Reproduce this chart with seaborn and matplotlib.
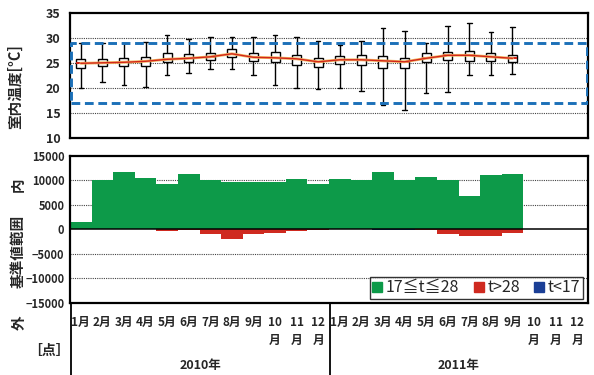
import numpy as np
import pandas as pd
import matplotlib
matplotlib.use("Agg")
import matplotlib.pyplot as plt
import matplotlib.patheffects as pe
from matplotlib.lines import Line2D
import seaborn as sns

# ---- data -------------------------------------------------------------
month_labels = [f"{m}月" if m < 10 else f"{m}\n月" for m in range(1, 13)] * 2
year_labels = ["2010年", "2011年"]

# monthly indoor temperature summary (°C), Jan 2010 .. Sep 2011
t_min = [20.1, 21.3, 20.7, 20.3, 22.6, 23.1, 23.8, 23.8, 22.7, 20.6, 20.0,
         19.8, 20.1, 19.5, 16.7, 15.6, 19.1, 19.2, 22.7, 22.7, 22.9]
t_q1 = [24.0, 24.5, 24.5, 24.5, 25.2, 25.3, 25.7, 26.2, 25.5, 25.3, 24.7,
        24.2, 24.8, 24.7, 24.0, 24.1, 25.2, 25.7, 25.5, 25.5, 25.3]
t_med = [25.0, 25.1, 25.2, 25.4, 25.8, 26.0, 26.3, 26.9, 26.2, 26.1, 25.9,
         25.3, 25.7, 25.7, 25.5, 25.3, 26.0, 26.6, 26.6, 26.3, 26.0]
t_q3 = [25.9, 25.8, 26.1, 26.3, 27.0, 26.8, 27.0, 27.8, 27.0, 27.2, 26.7,
        26.1, 26.4, 26.6, 26.4, 26.1, 27.0, 27.3, 27.4, 27.1, 26.6]
t_max = [29.0, 29.0, 29.0, 29.2, 30.7, 29.8, 30.2, 30.3, 30.2, 30.7, 30.2,
         29.4, 28.7, 29.5, 32.1, 31.4, 29.0, 32.4, 33.0, 31.3, 32.3]

# comfort band limits (°C)
band_low, band_high = 17, 29

# counts of readings inside / above / below the band
n_inside = [1400, 10100, 11700, 10500, 9200, 11300, 10000, 9700, 9600, 9700,
            10200, 9300, 10200, 10100, 11600, 10000, 10700, 10000, 6700,
            11000, 11200]
n_over = [0, 0, 0, 0, 340, 100, 1000, 2050, 1000, 750, 340, 100, 0, 0, 0, 0,
          100, 1000, 1350, 1350, 700]
n_under = [0, 0, 0, 0, 0, 0, 0, 0, 0, 0, 0, 0, 0, 0, 180, 180, 0, 0, 0, 0, 0]

legend_labels = ["17≦t≦28", "t>28", "t<17"]

# ---- style ------------------------------------------------------------
sns.set_theme(style="white")
plt.rcParams["font.family"] = ["Noto Sans CJK JP", "DejaVu Sans"]

C_IN, C_OVER, C_UNDER = "#0d9a49", "#cf2a20", "#1b3f96"
C_BAND = "#1c70b8"
C_MED = "#d2261c"

W, H = 594, 375
fig = plt.figure(figsize=(W / 100, H / 100), dpi=100)
left, right = 70, 588
ax1 = fig.add_axes([left / W, 1 - 138.3 / H, (right - left) / W, 125 / H])
ax2 = fig.add_axes([left / W, 1 - 303 / H, (right - left) / W, 147.3 / H])

pos = np.arange(len(t_med))

# ---- top: temperature box plots --------------------------------------
long = pd.DataFrame({
    "pos": np.repeat(pos, 5),
    "temp": np.column_stack([t_min, t_q1, t_med, t_q3, t_max]).ravel(),
})
sns.boxplot(data=long, x="pos", y="temp", orient="x", native_scale=True,
            whis=(0, 100), width=0.42, color="white", linecolor="black",
            linewidth=1.0, showfliers=False, saturation=1, ax=ax1,
            medianprops=dict(color=C_MED, linewidth=1.5))
sns.lineplot(x=pos, y=t_med, ax=ax1, color=C_MED, linewidth=1.0, zorder=6,
             path_effects=[pe.Stroke(linewidth=2.0, foreground="#f4b860"),
                           pe.Normal()])

for y in [15, 20, 25, 30]:
    ax1.axhline(y, color="#444444", lw=0.8, ls=(0, (1, 1)), zorder=0)

# dashed comfort band outline
bx = [-0.45, 23.45, 23.45, -0.45, -0.45]
by = [band_low, band_low, band_high, band_high, band_low]
ax1.plot(bx, by, color=C_BAND, lw=2.1, ls=(0, (3, 1.6)), zorder=4,
         clip_on=True)

ax1.set_xlim(-0.5, 23.5)
ax1.set_ylim(10, 35)
ax1.set_yticks(range(10, 36, 5))
ax1.set_xticks([])
ax1.set_xlabel("")
ax1.set_ylabel("")
ax1.tick_params(axis="y", length=0, pad=7, labelsize=9)
for t in ax1.get_yticklabels():
    t.set_fontweight("bold")

# ---- bottom: counts inside / outside the band -------------------------
bars = pd.DataFrame({
    "pos": pos,
    "inside": n_inside,
    "over": -np.array(n_over),
    "below_all": -(np.array(n_over) + np.array(n_under)),
})
for col, c in [("below_all", C_UNDER), ("over", C_OVER), ("inside", C_IN)]:
    sns.barplot(data=bars, x="pos", y=col, orient="x", native_scale=True,
                width=1.0, color=c, saturation=1, linewidth=0,
                errorbar=None, ax=ax2, zorder=2)

for y in [10000, 5000, -5000, -10000]:
    ax2.axhline(y, color="#444444", lw=0.8, ls=(0, (1, 1)), zorder=1)
ax2.axhline(0, color="black", lw=1.1, zorder=5)

ax2.set_xlim(-0.5, 23.5)
ax2.set_ylim(-15000, 15000)
ax2.set_yticks(range(-15000, 15001, 5000))
ax2.set_xticks(range(24))
ax2.set_xticklabels(month_labels)
ax2.set_xlabel("")
ax2.set_ylabel("")
ax2.tick_params(axis="y", length=0, pad=4, labelsize=8)
ax2.tick_params(axis="x", length=0, pad=9, labelsize=8.5)
for t in ax2.get_yticklabels():
    t.set_fontweight("bold")
for t in ax2.get_xticklabels():
    t.set_fontweight("bold")
    t.set_linespacing(1.55)

handles = [Line2D([], [], marker="s", ls="", color=c, markersize=7)
           for c in (C_IN, C_OVER, C_UNDER)]
leg = ax2.legend(handles, legend_labels, loc="lower right",
                 bbox_to_anchor=(0.99, 0.03), ncol=3, frameon=True,
                 fancybox=False, edgecolor="black", fontsize=11.5,
                 handlelength=0.6, handletextpad=0.25, columnspacing=0.9,
                 borderpad=0.15, borderaxespad=0)
leg.get_frame().set_linewidth(1.0)

for ax in (ax1, ax2):
    for s in ax.spines.values():
        s.set_color("black")
        s.set_linewidth(1.6)

# ---- axis captions and year grouping ----------------------------------
cap_kw = dict(rotation=90, ha="center", va="center", fontsize=10.5,
              fontweight="bold")
fig.text(15 / W, 1 - 87 / H, "室内温度[°C]", **cap_kw)
fig.text(18 / W, 1 - 185 / H, "内", **cap_kw)
fig.text(18 / W, 1 - 251 / H, "基準値範囲", **cap_kw)
fig.text(19 / W, 1 - 323 / H, "外", **cap_kw)
fig.text(49 / W, 1 - 351 / H, "［点］", ha="center", va="center",
         fontsize=10, fontweight="bold")

fig.text(200 / W, 1 - 365 / H, year_labels[0], ha="center", va="center",
         fontsize=9, fontweight="bold")
fig.text(459 / W, 1 - 365 / H, year_labels[1], ha="center", va="center",
         fontsize=9, fontweight="bold")
for xp in (70.5, 330):
    fig.add_artist(Line2D([xp / W, xp / W], [0, 1 - 303 / H],
                          transform=fig.transFigure, color="black", lw=1.3))

fig.savefig("out.png", dpi=100, facecolor="white")
